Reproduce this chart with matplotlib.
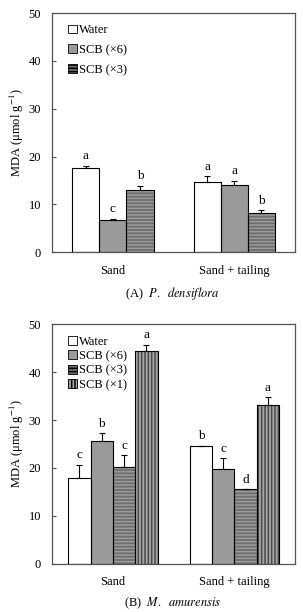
import numpy as np
import matplotlib
matplotlib.use("Agg")
import matplotlib.pyplot as plt

plt.rcParams['font.family'] = ['Liberation Serif', 'DejaVu Serif']
plt.rcParams['mathtext.fontset'] = 'stix'
plt.rcParams['hatch.linewidth'] = 1.1

groups = ["Sand", "Sand + tailing"]

# panel A: P. densiflora
a_labels = ["Water", "SCB (\u00d76)", "SCB (\u00d73)"]
a_means = [[17.6, 6.7, 13.0], [14.7, 14.1, 8.2]]
a_errs = [[0.5, 0.3, 0.9], [1.2, 0.8, 0.6]]
a_letters = [["a", "c", "b"], ["a", "a", "b"]]

# panel B: M. amurensis
b_labels = ["Water", "SCB (\u00d76)", "SCB (\u00d73)", "SCB (\u00d71)"]
b_means = [[17.9, 25.6, 20.1, 44.5], [24.6, 19.8, 15.6, 33.2]]
b_errs = [[2.8, 1.6, 2.5, 1.2], [0.0, 2.2, 0.0, 1.6]]
b_letters = [["c", "b", "c", "a"], ["b", "c", "d", "a"]]

# fill, hatch, hatch colour per treatment
styles = [("white", None, "black"),
          ("#9a9a9a", None, "#9a9a9a"),
          ("#6e6e6e", "-----", "#9c9c9c"),
          ("#a8a8a8", "|||||", "#4a4a4a")]

fs = 9


def draw_panel(ax, labels, means, errs, letters, width, spacing):
    n = len(labels)
    means = np.array(means)
    errs = np.array(errs)
    x = np.arange(len(groups))
    handles = []
    for i in range(n):
        pos = x + (i - (n - 1) / 2) * width
        fc, hatch, hc = styles[i]
        ax.bar(pos, means[:, i], width, color=fc, hatch=hatch,
               edgecolor=hc, linewidth=0, zorder=2)
        ax.bar(pos, means[:, i], width, fill=False, edgecolor="black",
               linewidth=0.8, zorder=3)
        handles.append(plt.Rectangle((0, 0), 1, 1, facecolor=fc, hatch=hatch,
                                     edgecolor="black", linewidth=0.6))
        ax.errorbar(pos, means[:, i], yerr=[np.zeros(len(groups)), errs[:, i]],
                    fmt="none", ecolor="black", elinewidth=0.8, capsize=2.5,
                    capthick=0.8, zorder=4)
        for j in range(len(groups)):
            ax.annotate(letters[j][i], (pos[j], means[j, i] + errs[j, i]),
                        xytext=(0, 2.5), textcoords="offset points",
                        ha="center", va="bottom", fontsize=fs + 0.5)
    ax.set_xlim(-0.5, 1.5)
    ax.set_ylim(0, 50)
    ax.set_yticks([0, 10, 20, 30, 40, 50])
    ax.set_xticks(x)
    ax.set_xticklabels(groups, fontsize=fs)
    ax.tick_params(axis="x", length=0, pad=9)
    ax.tick_params(axis="y", direction="in", length=3, labelsize=fs, pad=8,
                   color="#555555")
    for s in ax.spines.values():
        s.set_color("#555555")
        s.set_linewidth(0.9)
    ax.set_ylabel("MDA (\u03bcmol g$^{-1}$)", fontsize=fs, labelpad=2)
    ax.legend(handles, labels, loc="upper left", bbox_to_anchor=(0.03, 0.99),
              frameon=False, fontsize=fs, handlelength=0.7, handleheight=0.7,
              handletextpad=0.2, labelspacing=spacing, borderaxespad=0.3)


fig = plt.figure(figsize=(3.03, 6.12), dpi=100)
ax1 = fig.add_axes([0.172, 0.588, 0.802, 0.3905])
ax2 = fig.add_axes([0.172, 0.079, 0.802, 0.391])

draw_panel(ax1, a_labels, a_means, a_errs, a_letters, 0.223, 0.62)
draw_panel(ax2, b_labels, b_means, b_errs, b_letters, 0.184, 0.2)

fig.text(0.57, 0.521, "(A)  $\\it{P.\\ \\ densiflora}$", ha="center",
         va="center", fontsize=fs)
fig.text(0.57, 0.014, "(B)  $\\it{M.\\ \\ amurensis}$", ha="center",
         va="center", fontsize=fs)

fig.savefig("out.png", dpi=100)
